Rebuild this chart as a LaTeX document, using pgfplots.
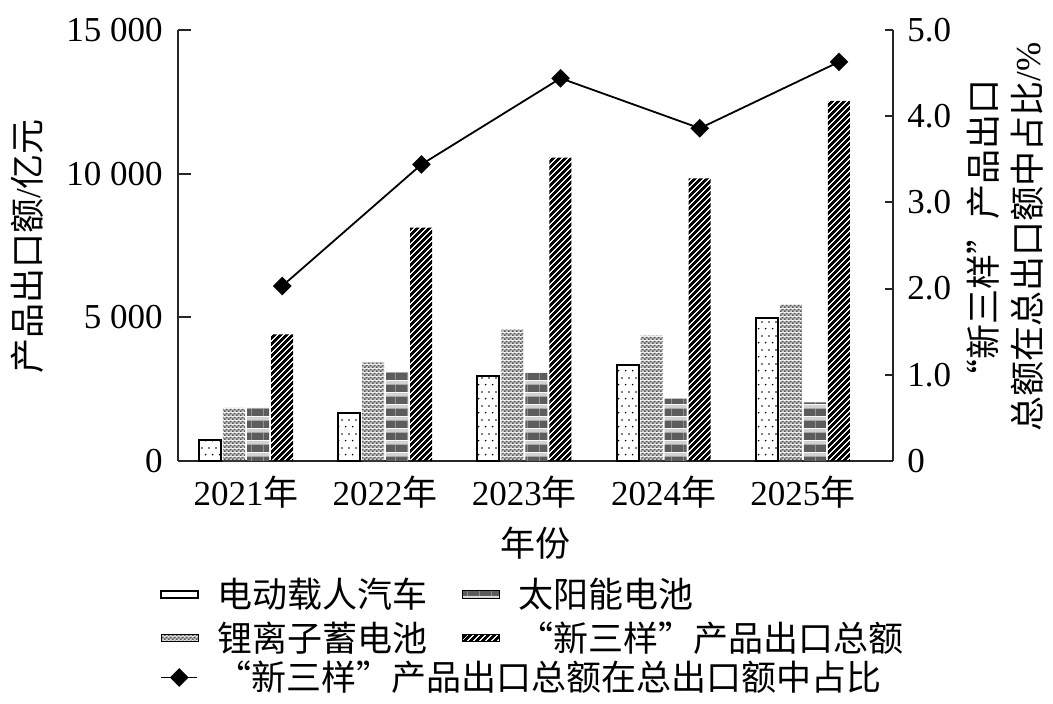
\documentclass[border=0pt]{standalone}
\usepackage{fontspec}
\setmainfont{Liberation Serif}
\newfontfamily\cjk{Noto Sans CJK SC}
\usepackage{pgfplots}
\pgfplotsset{compat=1.18}
\usetikzlibrary{patterns,patterns.meta}

\tikzdeclarepattern{
  name=sdots, type=uncolored,
  bottom left={(0pt,0pt)}, top right={(3.4pt,6.8pt)}, tile size={(3.4pt,6.8pt)},
  code={\fill (0.85pt,1.7pt) circle (0.45pt); \fill (2.55pt,5.1pt) circle (0.45pt);}
}
\tikzdeclarepattern{
  name=checker, type=colored,
  bottom left={(0pt,0pt)}, top right={(2pt,2pt)}, tile size={(2pt,2pt)},
  code={\fill[black!20] (0pt,0pt) rectangle (2pt,2pt);
        \fill[black!66] (0pt,0pt) rectangle (1pt,1pt);
        \fill[black!66] (1pt,1pt) rectangle (2pt,2pt);}
}
\tikzdeclarepattern{
  name=hbands, type=colored,
  bottom left={(0pt,0pt)}, top right={(6pt,6pt)}, tile size={(6pt,6pt)},
  code={\fill[black!18] (0pt,0pt) rectangle (6pt,6pt);
        \fill[black!64] (0pt,0pt) rectangle (6pt,4pt);}
}
\tikzdeclarepattern{
  name=thickne, type=uncolored,
  bottom left={(0pt,0pt)}, top right={(2.4pt,2.4pt)}, tile size={(2.4pt,2.4pt)},
  tile transformation={rotate=45},
  code={\fill (0pt,0.35pt) rectangle (2.4pt,2.05pt);}
}

\pgfplotsset{
  mybarleg/.style={legend image code/.code={\draw[##1,/tikz/.cd] (0pt,-1.4pt) rectangle (18.5pt,2.2pt);}}
}

\begin{document}
\fontsize{17.5pt}{21pt}\selectfont
\begin{tikzpicture}[font=\fontsize{17.5pt}{21pt}\selectfont]
\path[use as bounding box] (0,0) rectangle (526.5pt,351.5pt);
\begin{axis}[
  at={(89pt,121pt)}, anchor=south west,
  scale only axis, width=357.5pt, height=215.5pt,
  xmin=-0.4885, xmax=4.648, ymin=0, ymax=15000,
  scaled y ticks=false,
  axis x line*=bottom, axis y line*=left,
  axis line style={line width=1pt, black!85},
  ytick={0,5000,10000,15000},
  yticklabels={0,5 000,10 000,15 000},
  xtick={0,1,2,3,4},
  xticklabels={2021{\cjk 年},2022{\cjk 年},2023{\cjk 年},2024{\cjk 年},2025{\cjk 年}},
  major x tick style={draw=none},
  tick style={line width=1pt, black!85},
  tick align=inside, major tick length=6.5pt,
  xticklabel style={anchor=base, yshift=-22pt, inner sep=0pt},
  yticklabel style={anchor=east, xshift=-7.5pt, inner sep=0pt},
  xlabel={\cjk 年份},
  xlabel style={at={(axis description cs:0.5,-0.1903)}, anchor=center},
  ylabel={{\cjk 产品出口额}/{\cjk 亿元}},
  ylabel style={at={(axis description cs:-0.2112,0.4977)}, anchor=center},
  legend columns=2,
  legend cell align=left,
  legend style={draw=none, fill=none, at={(axis description cs:-0.0252,-0.270)}, anchor=north west,
    inner sep=0pt, row sep=4.4pt, nodes={inner sep=0pt},
    /tikz/every odd column/.append style={column sep=9pt},
    /tikz/every even column/.append style={column sep=17.5pt}},
  clip=false,
]
\addplot[ybar, bar width=11pt, bar shift=-18pt, draw=black, line width=1pt, pattern=sdots, pattern color=black, mybarleg]
  coordinates {(0,730)(1,1660)(2,2960)(3,3340)(4,4990)};
\addlegendentry{\cjk 电动载人汽车}
\addplot[ybar, bar width=11pt, bar shift=6pt, draw=none, pattern=hbands, mybarleg]
  coordinates {(0,1850)(1,3090)(2,3070)(3,2170)(4,2040)};
\addlegendentry{\cjk 太阳能电池}
\addplot[ybar, bar width=11pt, bar shift=-6pt, draw=none, pattern=checker, mybarleg]
  coordinates {(0,1850)(1,3430)(2,4570)(3,4360)(4,5460)};
\addlegendentry{\cjk 锂离子蓄电池}
\addplot[ybar, bar width=11pt, bar shift=18pt, draw=none, pattern=thickne, pattern color=black, mybarleg]
  coordinates {(0,4410)(1,8120)(2,10560)(3,9840)(4,12530)};
\addlegendentry{\cjk “新三样”产品出口总额}
\end{axis}
\begin{axis}[
  at={(89pt,121pt)}, anchor=south west,
  scale only axis, width=357.5pt, height=215.5pt,
  xmin=-0.4885, xmax=4.648, ymin=0, ymax=5,
  axis x line=none, axis y line*=right,
  axis line style={line width=1pt, black!85},
  ytick={0,1,2,3,4,5}, yticklabels={0,1.0,2.0,3.0,4.0,5.0},
  tick style={line width=1pt, black!85},
  tick align=inside, major tick length=4pt,
  yticklabel style={anchor=west, xshift=7pt, inner sep=0pt},
  ylabel={{\cjk “新三样”产品出口}\\{\cjk 总额在总出口额中占比}/\%},
  ylabel style={at={(axis description cs:1.1566,0.52)}, anchor=center, align=center, font=\fontsize{17.5pt}{22pt}\selectfont},
  legend cell align=left,
  legend style={draw=none, fill=none, at={(axis description cs:-0.0252,-0.4627)}, anchor=north west,
    inner sep=0pt, nodes={inner sep=0pt},
    /tikz/every odd column/.append style={column sep=9pt}},
  legend image code/.code={\draw[mark repeat=2,mark phase=2,#1] plot coordinates {(0pt,0.4pt)(9pt,0.4pt)(18pt,0.4pt)};},
  clip=false,
]
\addplot[black, line width=0.9pt, mark=square*, mark size=2.85pt, mark options={rotate=45, solid}]
  coordinates {(0.26,2.03)(1.26,3.44)(2.26,4.44)(3.26,3.86)(4.26,4.63)};
\addlegendentry{\cjk “新三样”产品出口总额在总出口额中占比}
\end{axis}
\end{tikzpicture}
\end{document}
